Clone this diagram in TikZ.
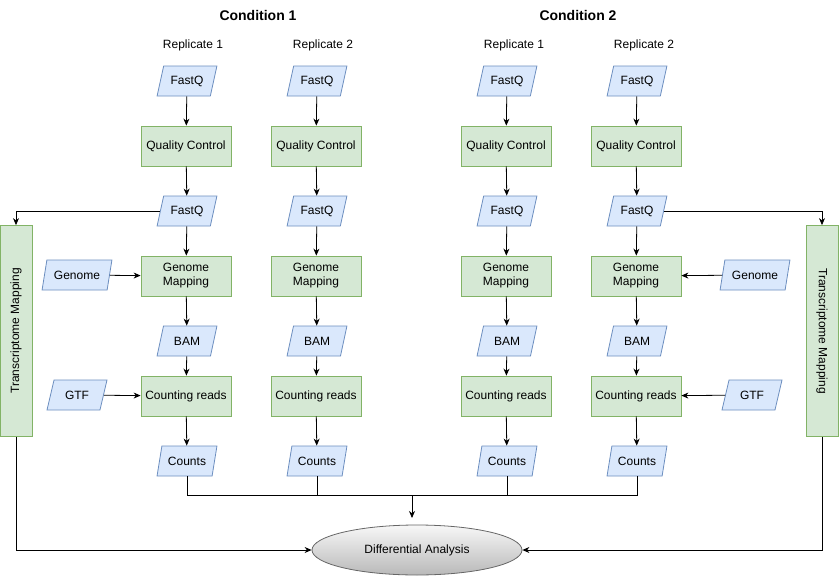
\documentclass[tikz,border=0pt]{standalone}
\usepackage{fontspec}
\setmainfont{Liberation Sans}
\usetikzlibrary{shapes.geometric,arrows.meta}

\definecolor{datafill}{HTML}{DAE8FC}
\definecolor{dataline}{HTML}{6C8EBF}
\definecolor{procfill}{HTML}{D5E8D4}
\definecolor{procline}{HTML}{82B366}
\definecolor{endline}{HTML}{666666}

\tikzset{
    datanode/.style={trapezium, trapezium left angle=66.6, trapezium right angle=113.4,
        trapezium stretches=true, minimum width=60pt, minimum height=30pt, inner sep=0pt,
        draw=dataline, fill=datafill, line width=0.8pt, font=\fontsize{12}{14}\selectfont},
    procnode/.style={rectangle, minimum width=90pt, minimum height=40pt, inner sep=0pt,
        draw=procline, fill=procfill, line width=0.8pt, align=center,
        font=\fontsize{12}{14}\selectfont},
    tmnode/.style={rectangle, minimum width=211pt, minimum height=32pt, inner sep=0pt,
        draw=procline, fill=procfill, line width=0.8pt, font=\fontsize{12}{14}\selectfont},
    flow/.style={line width=0.8pt, -{Stealth[length=7pt,width=6pt]}},
    plain/.style={line width=0.8pt},
}

\begin{document}
\begin{tikzpicture}[x=1pt, y=-1pt]
    \useasboundingbox (0,0) rectangle (839,576);

    % Titles
    \node[font=\fontsize{14}{16}\selectfont\bfseries] (cond1) at (258,15) {Condition 1};
    \node[font=\fontsize{14}{16}\selectfont\bfseries] (cond2) at (578,15) {Condition 2};
    \node[font=\fontsize{12}{14}\selectfont] (rep11) at (193,45) {Replicate 1};
    \node[font=\fontsize{12}{14}\selectfont] (rep12) at (323,45) {Replicate 2};
    \node[font=\fontsize{12}{14}\selectfont] (rep21) at (514,45) {Replicate 1};
    \node[font=\fontsize{12}{14}\selectfont] (rep22) at (644,45) {Replicate 2};

    % Column 1
    \node[datanode] (fqa1) at (187,81) {FastQ};
    \node[procnode] (qc1) at (186,146) {Quality Control};
    \node[datanode] (fqb1) at (187,211) {FastQ};
    \node[procnode] (gm1) at (186,276) {Genome\\Mapping};
    \node[datanode] (bam1) at (187,341) {BAM};
    \node[procnode] (cr1) at (186,396) {Counting reads};
    \node[datanode] (cnt1) at (187,461) {Counts};

    % Column 2
    \node[datanode] (fqa2) at (317,81) {FastQ};
    \node[procnode] (qc2) at (316,146) {Quality Control};
    \node[datanode] (fqb2) at (317,211) {FastQ};
    \node[procnode] (gm2) at (316,276) {Genome\\Mapping};
    \node[datanode] (bam2) at (317,341) {BAM};
    \node[procnode] (cr2) at (316,396) {Counting reads};
    \node[datanode] (cnt2) at (317,461) {Counts};

    % Column 3
    \node[datanode] (fqa3) at (507,81) {FastQ};
    \node[procnode] (qc3) at (506,146) {Quality Control};
    \node[datanode] (fqb3) at (507,211) {FastQ};
    \node[procnode] (gm3) at (506,276) {Genome\\Mapping};
    \node[datanode] (bam3) at (507,341) {BAM};
    \node[procnode] (cr3) at (506,396) {Counting reads};
    \node[datanode] (cnt3) at (507,461) {Counts};

    % Column 4
    \node[datanode] (fqa4) at (637,81) {FastQ};
    \node[procnode] (qc4) at (636,146) {Quality Control};
    \node[datanode] (fqb4) at (637,211) {FastQ};
    \node[procnode] (gm4) at (636,276) {Genome\\Mapping};
    \node[datanode] (bam4) at (637,341) {BAM};
    \node[procnode] (cr4) at (636,396) {Counting reads};
    \node[datanode] (cnt4) at (637,461) {Counts};

    % Side inputs
    \node[datanode, minimum width=70pt] (gen1) at (77,275) {Genome};
    \node[datanode] (gtf1) at (77,395) {GTF};
    \node[datanode, minimum width=70pt] (gen2) at (755,275) {Genome};
    \node[datanode] (gtf2) at (752,395) {GTF};

    % Transcriptome mapping
    \node[tmnode, rotate=90] (tm1) at (16,331) {Transcriptome Mapping};
    \node[tmnode, rotate=-90] (tm2) at (822,331) {Transcriptome Mapping};

    % Differential analysis
    \node[ellipse, minimum width=210pt, minimum height=50pt, draw=endline, line width=0.8pt,
        top color=gray!6, bottom color=gray!55, font=\fontsize{12}{14}\selectfont]
        (da) at (417,550) {Differential Analysis};

    % Vertical flows
    \draw[flow] (fqa1) -- (qc1);
    \draw[flow] (qc1) -- (fqb1);
    \draw[flow] (fqb1) -- (gm1);
    \draw[flow] (gm1) -- (bam1);
    \draw[flow] (bam1) -- (cr1);
    \draw[flow] (cr1) -- (cnt1);
    \draw[flow] (fqa2) -- (qc2);
    \draw[flow] (qc2) -- (fqb2);
    \draw[flow] (fqb2) -- (gm2);
    \draw[flow] (gm2) -- (bam2);
    \draw[flow] (bam2) -- (cr2);
    \draw[flow] (cr2) -- (cnt2);
    \draw[flow] (fqa3) -- (qc3);
    \draw[flow] (qc3) -- (fqb3);
    \draw[flow] (fqb3) -- (gm3);
    \draw[flow] (gm3) -- (bam3);
    \draw[flow] (bam3) -- (cr3);
    \draw[flow] (cr3) -- (cnt3);
    \draw[flow] (fqa4) -- (qc4);
    \draw[flow] (qc4) -- (fqb4);
    \draw[flow] (fqb4) -- (gm4);
    \draw[flow] (gm4) -- (bam4);
    \draw[flow] (bam4) -- (cr4);
    \draw[flow] (cr4) -- (cnt4);

    % Side inputs into mapping and counting
    \draw[flow] (gen1) -- (gm1);
    \draw[flow] (gtf1) -- (cr1);
    \draw[flow] (gen2) -- (gm4);
    \draw[flow] (gtf2) -- (cr4);

    % Transcriptome branch
    \draw[flow] (fqb1.west) -| (tm1.east);
    \draw[flow] (fqb4.east) -| (tm2.west);
    \draw[flow] (tm1.west) |- (da.west);
    \draw[flow] (tm2.east) |- (da.east);

    % Join counts
    \coordinate (jn) at (412,495);
    \coordinate (je) at (412,518);
    \draw[plain] (cnt1.south) -- (cnt1.south |- jn) -- (cnt4.south |- jn) -- (cnt4.south);
    \draw[plain] (cnt2.south) -- (cnt2.south |- jn);
    \draw[plain] (cnt3.south) -- (cnt3.south |- jn);
    \draw[flow] (jn) -- (je);

\end{tikzpicture}
\end{document}
